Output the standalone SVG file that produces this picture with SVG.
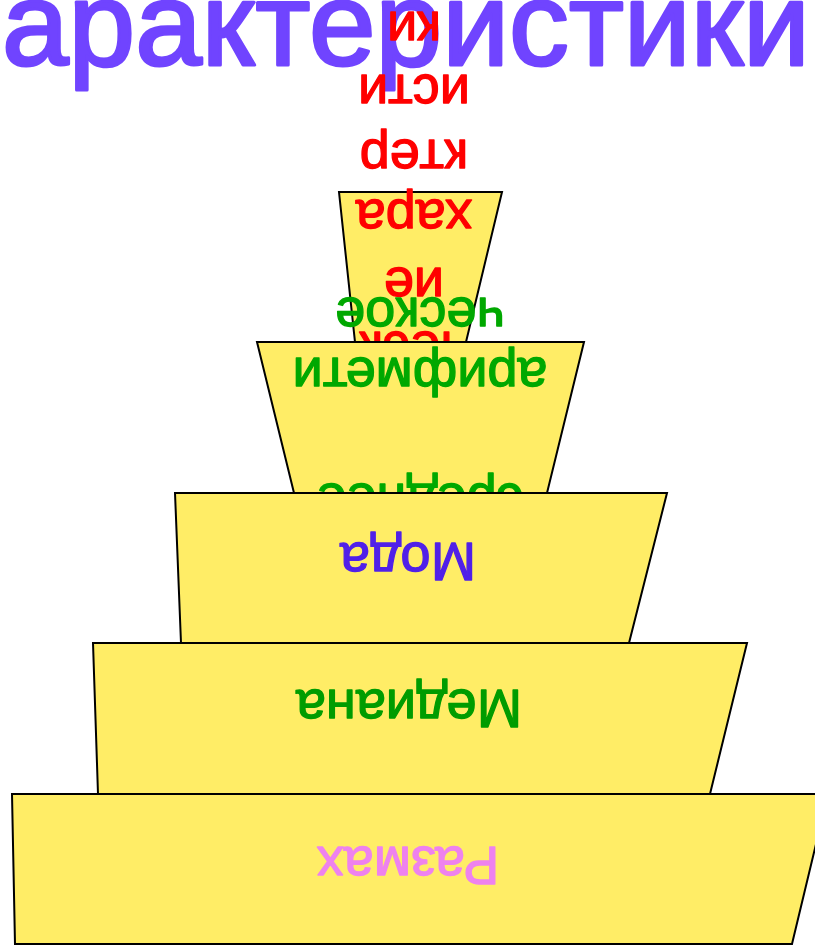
<svg xmlns="http://www.w3.org/2000/svg" width="815" height="945" viewBox="0 0 815 945">
<style>
.trap{fill:#FFED66;stroke:#000;stroke-width:2;stroke-linejoin:miter}
.lbl{font-family:"Liberation Sans",Arial,sans-serif;font-size:54px;text-anchor:middle;stroke-width:1.3;stroke-linejoin:round}
</style>
<rect width="815" height="945" fill="#fff"/>
<g id="title">
<text x="2" y="65" font-family="Liberation Sans, Arial, sans-serif" font-size="118" fill="#7044FF" stroke="#7044FF" stroke-width="3" stroke-linejoin="round" textLength="808" lengthAdjust="spacingAndGlyphs">арактеристики</text>
</g>
<g id="level1">
<polygon class="trap" points="339,192 502,192 466,342 355,342"/>
<text class="lbl" fill="#FF0000" stroke="#FF0000" transform="rotate(180 414 0)"><tspan x="414" y="-12">ки</tspan><tspan x="414" y="-75">исти</tspan><tspan x="414" y="-140">ктер</tspan><tspan x="414" y="-200">хара</tspan><tspan x="414" y="-268">ие</tspan><tspan x="414" y="-332">ческ</tspan></text>
</g>
<g id="level2">
<polygon class="trap" points="257,342 584,342 547,493 294,493"/>
<text class="lbl" fill="#00A800" stroke="#00A800" transform="rotate(180 420 0)"><tspan x="420" y="-298">ческое</tspan><tspan x="420" y="-358">арифмети</tspan><tspan x="420" y="-484">среднее</tspan></text>
</g>
<g id="level3">
<polygon class="trap" points="175,493 667,493 629,643 181,643"/>
<text class="lbl" fill="#5020E8" stroke="#5020E8" transform="rotate(180 408 0)" x="408" y="-543">Мода</text>
</g>
<g id="level4">
<polygon class="trap" points="93,643 747,643 710,794 98,794"/>
<text class="lbl" fill="#009C00" stroke="#009C00" transform="rotate(180 409 0)" x="409" y="-690">Медиана</text>
</g>
<g id="level5">
<polygon class="trap" points="12,794 828,794 792,944 15,944"/>
<text class="lbl" fill="#EE82EE" stroke="#EE82EE" transform="rotate(180 408 0)" x="408" y="-847" font-size="52">Размах</text>
</g>
</svg>
